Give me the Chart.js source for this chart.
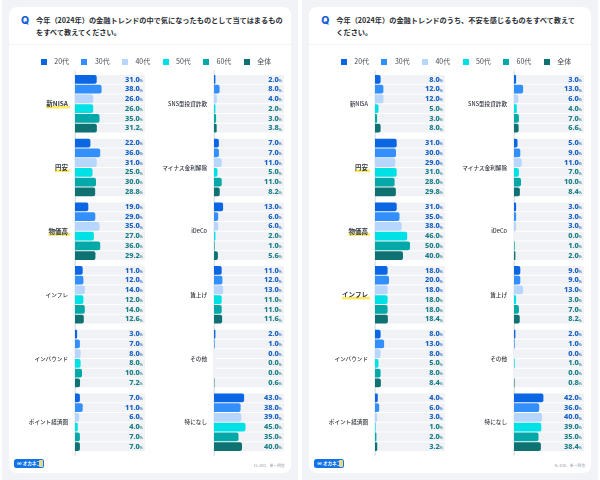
<!DOCTYPE html>
<html lang="ja"><head><meta charset="utf-8">
<style>
html,body{margin:0;padding:0;background:#fff;width:600px;height:480px;overflow:hidden;font-family:"Noto Sans CJK JP","Noto Sans",sans-serif}
.panel{position:absolute;top:0;height:480px;width:296px;background:#f1f3f6}
.card{position:absolute;top:7px;left:7px;width:282px;height:466px;background:#fff;border-radius:8px}
.head{position:absolute;left:0;top:0;width:282px;height:37px;border-bottom:1px solid #f1f3f6}
.q{position:absolute;left:12px;top:5px;font:800 10.5px/18px Inter,sans-serif;color:#1160d4}
.t{position:absolute;left:27px;top:7px;width:250px;font-weight:700;font-size:7.2px;line-height:12px;color:#2b2f36;white-space:pre}
canvas{position:absolute}
.logo{position:absolute;left:5px;top:452px;width:30px;height:9px;border-radius:2.5px;background:#1273e6;color:#fff;font-weight:700;font-size:4.6px;line-height:9px;text-indent:3px}
.logo i{position:absolute;right:1px;top:1px;width:4px;height:7px;background:#e6d98a;border-radius:1px}
.foot{position:absolute;right:6px;top:455px;color:#9aa1ab;font-size:3.9px;line-height:6px}
</style></head><body>
<div class="panel" style="left:2px"><div class="card">
<div class="head"><div class="q">Q</div><div class="t">今年（2024年）の金融トレンドの中で気になったものとして当てはまるもの
をすべて教えてください。</div></div>
<canvas id="c1a" width="282" height="428" style="left:0;top:37px"></canvas>
<canvas id="c1b" width="141" height="428" style="left:141px;top:37px"></canvas>
<div class="logo">∞ オカネコ<i></i></div><div class="foot">N=100、単一回答</div>
</div></div>
<div class="panel" style="left:302px"><div class="card" style="left:7.3px">
<div class="head"><div class="q">Q</div><div class="t">今年（2024年）の金融トレンドのうち、不安を感じるものをすべて教えて
ください。</div></div>
<canvas id="c2a" width="282" height="428" style="left:0;top:37px"></canvas>
<canvas id="c2b" width="141" height="428" style="left:141px;top:37px"></canvas>
<div class="logo">∞ オカネコ<i></i></div><div class="foot">N=100、単一回答</div>
</div></div>
<script src="https://cdn.jsdelivr.net/npm/chart.js@4"></script>
<script>
// Categories
const catsLeft  = ["新NISA","円安","物価高","インフレ","インバウンド","ポイント経済圏"];
const catsRight = ["SNS型投資詐欺","マイナス金利解除","iDeCo","賃上げ","その他","特になし"];
const seriesNames = ["20代","30代","40代","50代","60代","全体"];
const seriesColors = ["#0b66e4","#338ffb","#b6d6fd","#00e1e6","#04a8a8","#0f7272"];
const labelColors  = ["#1a62c4","#1a62c4","#1a62c4","#1b7f86","#1b7f86","#1b7f86"];
const trackMax = 100;
// Question 1: values per age group, category order as above
const q1Left = [
  [31,22,19,11,3,7],[38,36,29,12,7,11],[26,31,35,14,8,6],
  [26,25,27,12,8,4],[35,30,36,14,10,7],[31.2,28.8,29.2,12.6,7.2,7.0]];
const q1Right = [
  [2,7,13,11,2,43],[8,7,6,12,1,38],[4,11,6,13,0,39],
  [2,5,2,11,0,45],[3,11,1,11,0,35],[3.8,8.2,5.6,11.6,0.6,40.0]];
// Question 2
const q2Left = [
  [8,31,31,18,8,4],[12,30,35,20,13,6],[12,29,38,18,8,3],
  [5,31,46,18,5,1],[3,28,50,18,8,2],[8.0,29.8,40.0,18.4,8.4,3.2]];
const q2Right = [
  [3,5,3,9,2,42],[13,9,3,9,1,36],[6,11,3,13,0,40],
  [4,7,0,3,1,39],[7,10,1,7,0,35],[6.6,8.4,2.0,8.2,0.8,38.4]];
const q1Marked = ["新NISA","円安","物価高"];
const q2Marked = ["円安","物価高","インフレ"];

const JP = '"Noto Sans CJK JP","Noto Sans",sans-serif';
function swatch(color){
  const c=document.createElement('canvas');c.width=6;c.height=6;
  const x=c.getContext('2d');x.fillStyle=color;x.fillRect(0,0,6,6);return c;
}
const valueLabels={id:'valueLabels',afterDatasetsDraw(chart){
  const {ctx,scales:{x}}=chart;
  const right=x.getPixelForValue(trackMax)-2;
  ctx.save();ctx.textBaseline='middle';
  chart.data.datasets.forEach((ds,di)=>{
    if(ds.isTrack)return;
    chart.getDatasetMeta(di).data.forEach((bar,i)=>{
      ctx.fillStyle=ds.labelColor;
      ctx.textAlign='right';
      ctx.font='500 4px "Noto Sans",sans-serif';
      ctx.fillText('%',right,bar.y+1.2);
      const w=ctx.measureText('%').width;
      ctx.font='800 7.4px "Noto Sans",sans-serif';
      ctx.fillText(ds.data[i].toFixed(1),right-w+0.3,bar.y);
    });
  });
  ctx.restore();
}};
const marker={id:'marker',beforeDraw(chart,args,opts){
  const {ctx,scales:{y}}=chart;
  ctx.save();
  // axis line runs a little past the plot area, as in the source
  ctx.strokeStyle='#dfe2e7';ctx.lineWidth=1;
  ctx.beginPath();ctx.moveTo(y.right,y.top-2);ctx.lineTo(y.right,y.bottom+2);ctx.stroke();
  y.getLabels().forEach((lab,i)=>{
    if(!opts.marked.includes(lab))return;
    ctx.font='700 6.5px '+JP;
    const w=ctx.measureText(lab).width;
    const py=y.getPixelForValue(i), r=y.right-6;
    ctx.fillStyle='#ffe95c';
    ctx.fillRect(r-w-1,py+2,w+2,2.6);
  });
  ctx.restore();
}};
function makeChart(id,cats,vals,marked,withLegend){
  const real=seriesNames.map((n,i)=>({label:n,data:vals[i],backgroundColor:seriesColors[i],
    labelColor:labelColors[i],stack:n,order:0,borderRadius:2,borderSkipped:'start',
    barPercentage:0.9,categoryPercentage:0.918}));
  const tracks=seriesNames.map(n=>({label:'track '+n,isTrack:true,data:cats.map(()=>trackMax),
    backgroundColor:'#f0f2f5',stack:n,order:1,barPercentage:0.9,categoryPercentage:0.918}));
  const scales={
    x:{type:'linear',min:0,max:trackMax,stacked:false,display:false},
    y:{type:'category',labels:cats,stacked:true,position:'left',
       grid:{display:false,drawTicks:false},border:{display:true,color:'#dfe2e7',width:1},
       ticks:{autoSkip:false,padding:7,color:'#33383f',
         font:c=>{const b=marked.includes(cats[c.index]);return {family:JP,size:b?6.5:5.6,weight:b?700:500};}},
       afterFit(s){s.width=withLegend?58:64;}}
  };
  if(withLegend) scales.pad={type:'linear',axis:'y',position:'right',display:true,
    grid:{display:false,drawTicks:false},border:{display:false},ticks:{display:false},
    afterFit(s){s.width=146;}};
  return new Chart(document.getElementById(id),{
    type:'bar',
    data:{labels:cats,datasets:[...real,...tracks]},
    options:{indexAxis:'y',responsive:false,animation:false,
      layout:{padding:withLegend?{top:5.7,bottom:18,left:8}:{top:28,bottom:18,right:7}},
      scales,
      plugins:{
        tooltip:{enabled:false},
        marker:{marked},
        legend:{display:withLegend,position:'top',maxHeight:22.3,
          labels:{usePointStyle:true,pointStyleWidth:14,boxWidth:6,boxHeight:6,padding:8.3,
            color:'#444a53',font:{family:JP,size:7},
            generateLabels(ch){
              return ch.data.datasets.map((d,i)=>({text:d.label,datasetIndex:i,isTrack:d.isTrack,
                fillStyle:d.backgroundColor,strokeStyle:d.backgroundColor,lineWidth:0,
                fontColor:'#444a53',pointStyle:swatch(d.backgroundColor)}));
            },
            filter:it=>!it.isTrack}}
      }},
    plugins:[valueLabels,marker]
  });
}
makeChart('c1a',catsLeft,q1Left,q1Marked,true);
makeChart('c1b',catsRight,q1Right,q1Marked,false);
makeChart('c2a',catsLeft,q2Left,q2Marked,true);
makeChart('c2b',catsRight,q2Right,q2Marked,false);
</script></body></html>
